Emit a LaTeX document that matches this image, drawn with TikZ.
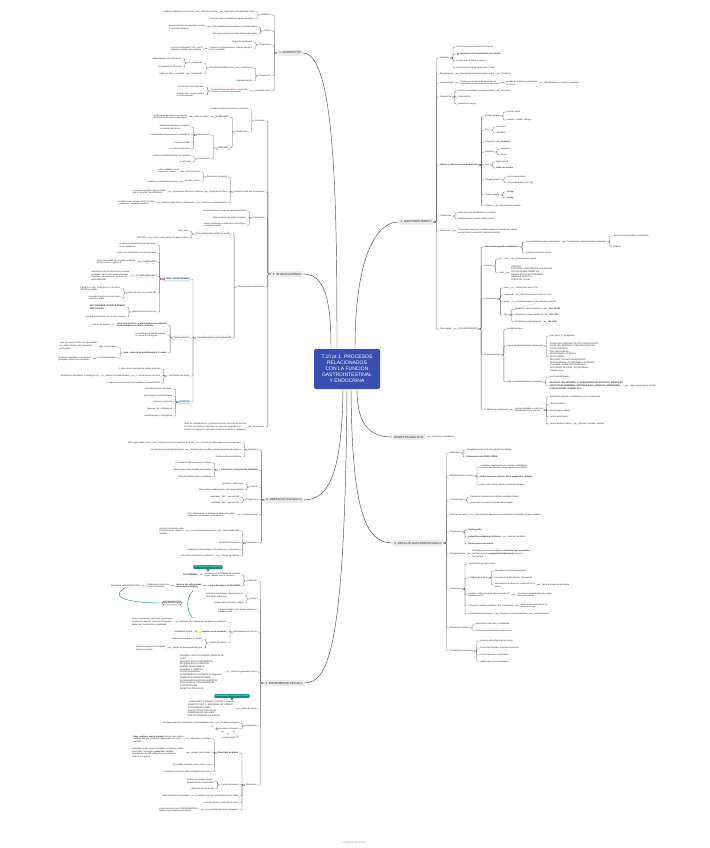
\documentclass[tikz,border=0pt]{standalone}
\usepackage{fontspec}
\setmainfont{Liberation Sans}
\usetikzlibrary{calc}
\definecolor{rootblue}{RGB}{58,77,176}
\definecolor{tealc}{RGB}{14,140,126}
\definecolor{lblue}{RGB}{110,185,230}
\definecolor{lgray}{RGB}{234,234,234}
\newcommand{\lfnt}{\fontsize{2.15}{2.7}\selectfont}
\newcommand{\mfnt}{\fontsize{2.9}{3.4}\selectfont}
\newcommand{\rfnt}{\fontsize{5}{6}\selectfont}
\tikzset{
  lt/.style={anchor=east, font=\lfnt, inner sep=0.4pt, align=left, text=black!85},
  rt/.style={anchor=west, font=\lfnt, inner sep=0.4pt, align=left, text=black!85},
  bo/.style={font=\lfnt\bfseries},
  redt/.style={text=red!80!black},
  mainb/.style={fill=lgray, rounded corners=1pt, font=\mfnt, inner sep=1.8pt, text=black!80},
  rootb/.style={fill=rootblue, text=white, font=\rfnt, align=center, rounded corners=1.5pt, minimum width=66pt, minimum height=40pt, inner sep=2pt},
  con/.style={draw=black!60, line width=0.3pt, rounded corners=1pt},
  mcon/.style={draw=black!70, line width=0.45pt},
  dbox/.style={draw=lblue, dashed, rounded corners=1.2pt, inner sep=1pt},
  sbox/.style={draw=lblue, rounded corners=1.5pt, inner sep=1pt},
  tealn/.style={fill=tealc, text=white, rounded corners=0.8pt, inner sep=1pt, font=\lfnt},
  wbox/.style={draw=black!60, rounded corners=1.5pt, inner sep=1pt, font=\lfnt},
}
% left child: [style]{name}{parent}{y}{text}
\newcommand{\Lnd}[5][]{%
  \path (#3.west) ++(-6,0) coordinate (tmpc);%
  \coordinate (tmpy) at (0,#4);%
  \node[lt,#1] (#2) at (tmpc |- tmpy) {#5};%
  \draw[con] (#3.west) -- ++(-3,0) |- (#2.east);%
}
\newcommand{\Rnd}[5][]{%
  \path (#3.east) ++(6,0) coordinate (tmpc);%
  \coordinate (tmpy) at (0,#4);%
  \node[rt,#1] (#2) at (tmpc |- tmpy) {#5};%
  \draw[con] (#3.east) -- ++(3,0) |- (#2.west);%
}
\newcommand{\icn}[2]{\fill[#2] ([xshift=1.6pt]#1.west) circle (1.1pt);}
\begin{document}
\begin{tikzpicture}[x=1pt,y=-1pt]
\fill[white] (0,0) rectangle (709,848);
\useasboundingbox (0,0) rectangle (709,848);

% ---------------- root and main branches
\node[rootb] (root) at (347,369) {T.10 pt 1. PROCESOS\\RELACIONADOS\\CON LA FUNCION\\GASTROINTESTINAL\\Y ENDOCRINA};
\node[mainb] (A) at (290,53) {4. APENDICITIS};
\node[mainb] (I) at (287,274) {5. INTOXICACIONES};
\node[mainb] (O) at (284,500) {6. OBESIDAD (Sobrepeso)};
\node[mainb] (C) at (284,683) {3. ENFERMEDAD CELIACA};
\node[mainb] (G) at (416,222) {1. GASTROENTERITIS};
\node[mainb] (D) at (409,437) {DIABETES MELLITUS};
\node[mainb] (R) at (418,543) {2. REFLUJO GASTROESOFÁGICO};

\draw[mcon] ([xshift=-10pt]root.north) .. controls (337,200) and (335,53) .. (A.east);
\draw[mcon] ([xshift=-16pt]root.north) .. controls (331,300) and (325,274) .. (I.east);
\draw[mcon] ([xshift=8pt]root.north) .. controls (355,260) and (375,222) .. (G.west);
\draw[mcon] ([xshift=10pt]root.south) .. controls (357,425) and (370,437) .. (D.west);
\draw[mcon] ([xshift=4pt]root.south) .. controls (352,510) and (365,543) .. (R.west);
\draw[mcon] ([xshift=-4pt]root.south) .. controls (342,470) and (330,500) .. (O.east);
\draw[mcon] (root.south) .. controls (345,640) and (330,683) .. (C.east);

% ---------------- 4. APENDICITIS
\Lnd{a1}{A}{15}{Definición}
\Lnd{a2}{A}{31}{Clínica}
\Lnd{a3}{A}{45}{Diagnóstico}
\Lnd{a4}{A}{76}{Tratamiento}
\Lnd{a5}{A}{91}{Complicaciones}
\Lnd{a11}{a1}{12}{Inflamación del apéndice cecal}
\Lnd{a12}{a1}{19}{Principal causa de abdomen agudo quirúrgico}
\Lnd{a111}{a11}{12}{más en hombres}
\Lnd{a112}{a111}{12}{cualquier edad pero pico 10-30a}
\Lnd{a21}{a2}{27}{Dolor abdominal periumbilical, fosa ilíaca dcha}
\Lnd{a22}{a2}{34}{Náuseas, vómitos, anorexia, fiebre baja grado}
\Lnd{a211}{a21}{27}{puede empezar en epigastrio y migrar\\a fosa ilíaca derecha}
\Lnd{a31}{a3}{42}{Palpación abdominal}
\Lnd{a32}{a3}{49}{Pruebas complementarias: análisis sangre y\\orina, ecografía}
\Lnd{a321}{a32}{49}{si no es concluyente: TAC, con la\\radiación ionizante que conlleva}
\Lnd{a41}{a4}{68}{Antibióticos}
\Lnd{a42}{a4}{81}{Apendicectomía}
\Lnd{a411}{a41}{68}{ANTIBIOTERAPIA previa}
\Lnd{a4111}{a411}{63}{no complicada}
\Lnd{a4112}{a411}{74}{complicada}
\Lnd{a41111}{a4111}{59}{difusa aguda y sin perforación}
\Lnd{a41112}{a4111}{67}{se reevalúa en 48 horas}
\Lnd{a41121}{a4112}{74}{+48h con TAC o ecografía}
\Lnd[redt]{a51}{a5}{91}{Perforación del apéndice → peritonitis,\\absceso o plastrón apendicular}
\Lnd{a511}{a51}{87}{24-48 h tras inicio del dolor}
\Lnd{a512}{a51}{95}{Retraso DX + menor edad o\\inmunosupresión}

% ---------------- 5. INTOXICACIONES
\Lnd{i1}{I}{121}{Concepto}
\Lnd{i2}{I}{192}{Actuación ante una intoxicación}
\Lnd{i3}{I}{218}{Tratamiento}
\Lnd{i4}{I}{287}{Técnicas descontaminación}
\Lnd{i5}{I}{427}{Prevención}
\Lnd{i11}{i1}{109}{Problema clínico frecuente en pediatría}
\Lnd{i12}{i1}{132}{Clasificación}
\Lnd[dbox]{i121}{i12}{117}{accidentales}
\Lnd[dbox]{i122}{i12}{148}{voluntarias}
\Lnd{i1211}{i121}{117}{edad 1-5 años}
\Lnd{i1212}{i1211}{117}{exploración del entorno (productos\\de limpieza, fármacos), curiosidad}
\Lnd{i1221}{i122}{135}{adolescencia}
\Lnd{i1222}{i122}{159}{malos tratos}
\Lnd{i12211}{i1221}{127}{problemas familiares, escolares\\o consumo de tóxicos}
\Lnd{i12212}{i1221}{135}{relacionadas con problemas psicológicos}
\Lnd{i12213}{i1221}{143}{intentos suicidas}
\Lnd{i12214}{i1221}{149}{con fines recreativos}
\Lnd{i12221}{i1222}{156}{síndrome de Münchhausen por poderes}
\Lnd{i12222}{i1222}{162}{en el hogar}
\Lnd{i21}{i2}{177}{Anamnesis completa}
\Lnd{i22}{i2}{192}{Exploración física}
\Lnd{i23}{i2}{203}{Pruebas complementarias}
\Lnd{i211}{i21}{172}{Qué sustancia}
\Lnd{i212}{i21}{181}{cuándo y cómo}
\Lnd{i2111}{i211}{171}{cuál, cantidad, vía de\\exposición, tiempo}
\Lnd{i2121}{i212}{182}{síntomas y tratamientos previos}
\Lnd{i221}{i22}{192}{Exploración física por sistemas}
\Lnd{i2211}{i221}{192}{conciencia, pupilas, signos vitales,\\piel y mucosas, olor del aliento}
\Lnd{i231}{i23}{203}{Ajustes según tóxico y tratamiento}
\Lnd{i2311}{i231}{203}{analítica orina, sangre, ECG, Rx tórax\\y abdomen, niveles plasmáticos}
\Lnd{i31}{i3}{211}{Descontaminación cutánea y gastrointestinal}
\Lnd{i32}{i3}{218}{Administración de carbón activado}
\Lnd{i33}{i3}{225}{Lavar el estómago si indicación toxicológica\\o ingesta reciente}
\Lnd[dbox]{i41}{i4}{234}{Descontaminación cutánea y ocular}
\Lnd[dbox]{i42}{i4}{338}{Descontaminación gastrointestinal}
\Lnd{i411}{i41}{231}{Piel y ojos}
\Lnd{i412}{i41}{238}{retirar ropa y lavar con agua y jabón}
\Lnd{i4121}{i412}{238}{NO frotar}
\Lnd[sbox,font=\lfnt\bfseries]{i421}{i42}{279}{\hspace{2.6pt}adm. carbón activado}
\icn{i421}{red!65}
\Lnd[dbox]{i422}{i42}{338}{lavado gástrico}
\Lnd{i423}{i42}{376}{↑ eliminación del tóxico}
\Lnd[sbox]{i424}{i42}{402}{antídotos}
\Lnd{i4211}{i421}{245}{se elimina directamente por las heces,\\no se metaboliza}
\Lnd{i4212}{i421}{253}{mejor si se administra en la primera hora}
\Lnd[dbox]{i4213}{i421}{262}{Indicaciones}
\Lnd{i42131}{i4213}{262}{tóxico absorbible por el carbón activado,\\tiempo menor o igual a 1h}
\Lnd[dbox]{i4214}{i421}{276}{Contraindicaciones}
\Lnd{i42141}{i4214}{276}{disminución de conciencia sin vía aérea\\protegida, obstrucción gastrointestinal,\\cáusticos, hidrocarburos, perforación\\gastrointestinal}
\Lnd{i4215}{i421}{293}{dosis vía oral o por sonda NG}
\Lnd{i42151}{i4215}{289}{1 g/kg si <1 año, 1 g/kg entre 1 y 12 años,\\50-100 g si adulto}
\Lnd{i42152}{i4215}{298}{se puede mezclar con zumo para\\mejorar el sabor}
\Lnd{i4216}{i421}{312}{diferentes formas de uso}
\Lnd[bo]{i42161}{i4216}{307}{NO CONSUMIR: POSIBLE VÓMITO\\PROVOCADO}
\Lnd{i42162}{i4216}{317}{puede administrarse con un zumo o agua}
\Lnd[bo]{i4221}{i422}{325}{si persiste el tóxico, preferentemente sustancias\\no absorbibles por carbón activado}
\Lnd{i42211}{i4221}{325}{tras 1h de ingesta}
\Lnd{i4222}{i422}{335}{no justificado si carbón activado,\\no cercano a la ingesta}
\Lnd[bo]{i4223}{i422}{353}{adm. solución de polietilenglicol + lavado}
\Lnd{i42231}{i4223}{347}{Indicaciones}
\Lnd{i42232}{i4223}{358}{Contraindicaciones}
\Lnd{i422311}{i42231}{346}{intox. graves por tóxicos no absorbibles\\por carbón (hierro, litio), liberación\\prolongada}
\Lnd{i422321}{i42232}{359}{pacientes inestables, vía aérea no\\protegida, obstrucción intestinal}
\Lnd{i4231}{i423}{369}{1. adm. dosis repetidas de carbón activado}
\Lnd{i4232}{i423}{376}{2. alcalinización de orina}
\Lnd{i4233}{i423}{383}{3. depuración extrarrenal (hemodiálisis, hemoperfusión)}
\Lnd{i42321}{i4232}{376}{diuresis forzada alcalina}
\Lnd{i423211}{i42321}{376}{bicarbonato 1M diluido, 1 meq/kg en 1h}
\Lnd{i4241}{i424}{389}{benzodiacepinas: flumazenil}
\Lnd{i4242}{i424}{396}{paracetamol: N-acetilcisteína}
\Lnd{i4243}{i424}{402}{opiáceos: naloxona}
\Lnd{i4244}{i424}{409}{digoxina: Ac. antidigoxina}
\Lnd{i4245}{i424}{416}{anticolinérgicos: fisostigmina}
\Lnd{i51}{i5}{427}{Tener los medicamentos y productos tóxicos fuera del alcance de\\los niños, en envases originales con tapón de seguridad, no\\cambiar de recipiente, educación sanitaria a padres y cuidadores}

% ---------------- 6. OBESIDAD
\Lnd{o1}{O}{450}{Definición}
\Lnd[bo]{o2}{O}{470}{\hspace{2.6pt}Prevención: alimentación saludable}
\icn{o2}{yellow!85!orange}
\Lnd{o3}{O}{487}{Causas}
\Lnd{o4}{O}{500}{Diagnóstico}
\Lnd{o5}{O}{515}{Complicaciones}
\Lnd{o6}{O}{543}{Tratamiento}
\Lnd{o11}{o1}{443}{Exceso de tejido adiposo en el organismo}
\Lnd{o12}{o1}{450}{Trastorno que modifica el funcionamiento de órganos}
\Lnd{o13}{o1}{457}{Problema de salud pública}
\Lnd{o111}{o11}{443}{acúmulo anormal o excesivo de grasa}
\Lnd{o1111}{o111}{443}{IMC según edad y sexo}
\Lnd{o121}{o12}{450}{no siempre por mala alimentación}
\Lnd{o21}{o2}{463}{5 comidas al día, desayuno completo}
\Lnd{o22}{o2}{470}{beber agua, evitar bebidas azucaradas}
\Lnd{o23}{o2}{477}{dieta de calidad, frutas y verduras}
\Lnd{o31}{o3}{484}{genéticos, endocrinos}
\Lnd{o32}{o3}{490}{ambientales: sedentarismo, dieta hipercalórica}
\Lnd{o41}{o4}{497}{sobrepeso: IMC > percentil 85}
\Lnd{o42}{o4}{503}{obesidad: IMC > percentil 95}
\Lnd{o51}{o5}{515}{HTA, diabetes tipo 2, dislipemia, apnea del sueño,\\problemas ortopédicos y psicológicos}
\Lnd{o61}{o6}{531}{Dieta equilibrada}
\Lnd{o62}{o6}{543}{Actividad física diaria}
\Lnd{o63}{o6}{550}{Fármacos}
\Lnd{o64}{o6}{556}{Cambio de hábitos}
\Lnd{o611}{o61}{531}{con intensidad progresiva}
\Lnd{o6111}{o611}{531}{implicar a la familia, evitar\\complicaciones, objetivos\\realistas}
\Lnd{o631}{o63}{550}{tratamiento farmacológico si fracasa}
\Lnd{o641}{o64}{556}{educación nutricional y conductual}

% ---------------- 3. ENFERMEDAD CELIACA
\Lnd{c1}{C}{581}{Definición}
\Lnd{c2}{C}{599}{Clínica}
\Lnd{c3}{C}{611}{Ser asintomático, pero puede aparecer a\\cualquier edad}
\Lnd{c4}{C}{632}{Manifestaciones clínicas}
\Lnd{c5}{C}{672}{síntomas generales y otros}
\Lnd{c6}{C}{709}{grupo de riesgo}
\Lnd{c7}{C}{726}{Diagnóstico}
\Lnd{c8}{C}{785}{Tratamiento}
\Lnd{c11}{c1}{575}{Intolerancia PERMANENTE al gluten\\(trigo, cebada, avena, centeno)}
\Lnd[bo]{c12}{c1}{586}{no pueden digerir la GLIADINA}
\Lnd[bo]{c111}{c11}{575}{AUTOINMUNE}
\Lnd[bo]{c121}{c12}{586}{afecta a las vellosidades\\del intestino delgado}
\Lnd{c1211}{c121}{586}{Inflamación y atrofia de\\la pared intestinal}
\Lnd{c12111}{c1211}{586}{Afectación: MALABSORCIÓN}
\node[tealn] (cn1) at (208,567) {ESTUDIOS (HLA DQ2/DQ8)};
\fill[tealc] ([xshift=-1.5pt]cn1.south) -- ([xshift=1.5pt]cn1.south) -- ++(-1.5,2.5) -- cycle;
\Lnd{c21}{c2}{595}{Síntomas intestinales: diarrea crónica,\\distensión abdominal}
\Lnd{c22}{c2}{603}{Retraso del crecimiento, fatiga}
\node[wbox] (cm) at (172,603) {MALABSORCIÓN};
\draw[tealc, line width=0.4pt] (c12111.south) .. controls (105,600) and (140,603) .. (cm.west);
\draw[tealc, line width=0.4pt] (193,591) .. controls (186,596) and (186,612) .. (193,618);
\Lnd{c41}{c4}{622}{alteración de la absorción de grasas y nutrientes}
\Lnd[bo]{c42}{c4}{632}{\hspace{2.6pt}cambios en la conducta}
\icn{c42}{yellow!85!orange}
\Lnd{c43}{c4}{643}{CRISIS CELIACA}
\Lnd{c411}{c41}{622}{heces voluminosas, grasosas, espumosas,\\esteatorrea, anemia, anorexia, distensión\\abdominal, malnutrición, irritabilidad}
\Lnd{c421}{c42}{632}{irritabilidad, apatía}
\Lnd{c431}{c43}{639}{diarrea acuosa grave y vómitos}
\Lnd{c432}{c43}{648}{puede ser desencadenada por}
\Lnd{c4321}{c432}{648}{infecciones, ayuno prolongado,\\estrés emocional}
\Lnd{c51}{c5}{672}{DIARREA, FALLO DE MEDRO, PÉRDIDA DE\\PESO\\RETRASO EN EL CRECIMIENTO\\RETRASO EN LA PUBERTAD\\ANEMIA FERROPÉNICA\\NÁUSEAS Y VÓMITOS\\DOLOR ABDOMINAL\\ESTREÑIMIENTO CRÓNICO (no digestivo)\\DERMATITIS HERPETIFORME\\ÚLCERAS BUCALES RECURRENTES\\ELEVACIÓN DE TRANSAMINASAS\\OSTEOPOROSIS\\DEFECTOS DENTALES}
\node[tealn] (cn2) at (232,696) {Ha aumentado en los últimos años};
\fill[tealc] ([xshift=-1.5pt]cn2.south) -- ([xshift=1.5pt]cn2.south) -- ++(-1.5,2.5) -- cycle;
\Lnd{c61}{c6}{709}{- FAMILIARES 1º GRADO CON ENF. CELIACA -\\DIABETES TIPO 1 - SÍNDROME DE TURNER -\\SÍNDROME DE DOWN -\\DÉFICIT SELECTIVO DE IgA -\\SÍNDROME DE WILLIAMS -\\ENF. AUTOINMUNE DE HÍGADO}
\Lnd{c71}{c7}{723}{Prueba serológica}
\Lnd{c72}{c7}{729}{Endoscopia con biopsia}
\Lnd{c711}{c71}{723}{Serología positiva y anticuerpos antitransglutaminasa}
\node[rt] (cq) at (221,738) {¿confirmación?};
\draw[tealc, dashed, line width=0.35pt] ([xshift=-3pt]c711.south east) .. controls +(0,6) and +(4,-4) .. (cq.north);
\draw[tealc, dashed, line width=0.35pt] ([xshift=6pt]c72.south) .. controls +(0,5) and +(6,0) .. (cq.east);
\Lnd[bo]{c81}{c8}{753}{Dieta libre de gluten}
\Lnd{c82}{c8}{785}{Control nutricional}
\Lnd{c83}{c8}{796}{explicar lo que es la contaminación cruzada}
\Lnd{c84}{c8}{803}{enseñar signos y síntomas de brote}
\Lnd{c85}{c8}{810}{leer las etiquetas de los alimentos}
\Lnd{c831}{c83}{796}{evitar utensilios compartidos}
\Lnd{c851}{c85}{810}{evitar productos con CONSERVANTES y\\aditivos que puedan tener gluten}
\Lnd{c811}{c81}{739}{alimentos con gluten}
\Lnd{c812}{c81}{753}{pueden tener gluten}
\Lnd{c813}{c81}{765}{principales cereales: arroz, maíz y mijo}
\Lnd{c814}{c81}{772}{se prefiere eliminar el 100\% del gluten de la dieta}
\Lnd{c8111}{c811}{739}{\textbf{trigo, centeno, avena, cebada}, harinas, pan, pasta,\\galletas, bollería, productos elaborados con estos\\cereales}
\Lnd{c8121}{c812}{753}{embutidos, patés, quesos fundidos, conservas, salsas,\\chocolates, caramelos, \textbf{golosinas}, helados,\\sucedáneos de café, alimentos precocinados,\\productos a granel}
\Lnd{c821}{c82}{781}{análisis de sangre: niveles\\de deficiencias nutricionales}
\Lnd{c822}{c82}{789}{valoración del desarrollo}

% ---------------- 1. GASTROENTERITIS
\Rnd{g1}{G}{58}{Definición}
\Rnd{g2}{G}{74}{Etiopatogenia}
\Rnd{g3}{G}{83}{Fisiopatología}
\Rnd{g4}{G}{97}{Diagnóstico}
\Rnd[bo]{g5}{G}{165}{Signos y síntomas de deshidratación}
\Rnd{g6}{G}{216}{Tratamiento}
\Rnd{g7}{G}{231}{Prevención}
\Rnd{g8}{G}{329}{Fase aguda}
\Rnd{g11}{g1}{47}{Disminución de consistencia de heces}
\Rnd[bo]{g12}{g1}{54}{\hspace{2.6pt}Aumento de frecuencia (más de 3 al día)}
\icn{g12}{red!65}
\Rnd{g13}{g1}{61}{Puede asociar fiebre y vómitos}
\Rnd{g14}{g1}{68}{Generalmente agudo (menos de 7 días)}
\Rnd{g21}{g2}{74}{Infecciones víricas (principal causa)}
\Rnd{g211}{g21}{74}{Rotavirus}
\Rnd{g31}{g3}{83}{Diarrea por aumento de secreción de\\electrolitos y/o disminución de absorción}
\Rnd{g311}{g31}{83}{pérdida de líquidos y electrolitos\\en heces}
\Rnd{g3111}{g311}{83}{deshidratación y acidosis metabólica}
\Rnd{g41}{g4}{91}{Clínico, sin pruebas complementarias}
\Rnd{g411}{g41}{91}{principal}
\Rnd{g42}{g4}{97}{Coprocultivo}
\Rnd{g43}{g4}{104}{Análisis de sangre}
\Rnd{g51}{g5}{116}{Estado general}
\Rnd{g52}{g5}{130}{Ojos}
\Rnd{g53}{g5}{142}{Lágrimas}
\Rnd{g54}{g5}{152}{Mucosas}
\Rnd{g55}{g5}{165}{Sed}
\Rnd{g56}{g5}{180}{Pliegue cutáneo}
\Rnd{g57}{g5}{195}{Relleno capilar}
\Rnd{g58}{g5}{206}{Diuresis}
\Rnd{g511}{g51}{112}{normal, alerta}
\Rnd{g512}{g51}{120}{inquieto, irritable, letárgico}
\Rnd{g521}{g52}{127}{normales}
\Rnd{g522}{g52}{133}{hundidos}
\Rnd[bo]{g531}{g53}{142}{ausentes}
\Rnd{g541}{g54}{149}{húmedas}
\Rnd{g542}{g54}{155}{secas}
\Rnd{g551}{g55}{162}{bebe normal}
\Rnd[bo]{g552}{g55}{168}{bebe con avidez}
\Rnd{g561}{g56}{177}{se recupera rápido}
\Rnd{g562}{g56}{183}{se recupera lento (>2 seg)}
\Rnd[bo]{g571}{g57}{192}{<2 seg}
\Rnd[bo]{g572}{g57}{198}{>2 seg}
\Rnd{g581}{g58}{206}{disminuida o ausente}
\Rnd{g61}{g6}{213}{Soluciones de rehidratación oral (SRO)}
\Rnd{g62}{g6}{219}{Realimentación precoz, dieta normal}
\Rnd{g71}{g7}{231}{Transmisión fecal-oral: medidas higiénicas (lavado de manos),\\vacuna frente a rotavirus, lactancia materna}
\Rnd{g81}{g8}{329}{DESHIDRATACIÓN}
\Rnd[bo]{g811}{g81}{247}{Alteraciones agudas metabólicas}
\Rnd{g812}{g81}{266}{Causas}
\Rnd{g813}{g81}{299}{Clasificación}
\Rnd{g814}{g81}{355}{Manifestaciones}
\Rnd{g815}{g81}{410}{Cuidados de enfermería}
\Rnd{g8111}{g811}{242}{por la pérdida de agua y electrolitos}
\Rnd{g81111}{g8111}{242}{Compuestos hidroelectrolíticos alterados}
\Rnd{g811111}{g81111}{236}{alteraciones del equilibrio ácido-base}
\Rnd{g811112}{g81111}{247}{acidosis}
\Rnd{g8112}{g811}{253}{Hiper/hiponatremia, shock}
\Rnd{g8121}{g812}{259}{Sx. ↑ frec.}
\Rnd{g81211}{g8121}{259}{gastroenteritis aguda}
\Rnd{g8122}{g812}{273}{otras}
\Rnd{g81221}{g8122}{273}{VÓMITOS\\ESTENOSIS HIPERTRÓFICA DE PÍLORO\\CETOACIDOSIS DIABÉTICA\\INSUFICIENCIA SUPRARRENAL\\FIBROSIS QUÍSTICA\\GOLPE DE CALOR}
\Rnd{g8131}{g813}{288}{Leve}
\Rnd{g8132}{g813}{295}{moderada}
\Rnd{g8133}{g813}{302}{grave}
\Rnd{g8134}{g813}{315}{Tipo}
\Rnd{g81311}{g8131}{288}{Disminución peso <5\%}
\Rnd{g81321}{g8132}{295}{Disminución peso entre 5 y 10\%}
\Rnd{g81331}{g8133}{302}{pérdida superior al 10\% de peso corporal}
\Rnd{g81341}{g8134}{309}{Isotónica o normonatrémica}
\Rnd{g81342}{g8134}{315}{Hipertónica o hipernatrémica}
\Rnd{g81343}{g8134}{322}{Hipotónica o hiponatrémica}
\Rnd[bo]{g813411}{g81341}{309}{Na 130-150}
\Rnd[bo]{g813421}{g81342}{315}{Na >150}
\Rnd[bo]{g813431}{g81343}{322}{Na <130}
\draw[blue!60, densely dotted, line width=0.4pt] ([xshift=20pt]g81331.south west) .. controls +(-10,2) and +(2,-4) .. ([xshift=1pt]g8134.north east);
\Rnd{g8141}{g814}{329}{pérdida de peso}
\Rnd{g8142}{g814}{346}{signos de deshidratación extracelular}
\Rnd{g8143}{g814}{382}{signos de deshidratación intracelular}
\Rnd{g81421}{g8142}{336}{más típico: 1ª en aparecer}
\Rnd{g81422}{g8142}{357}{SIGNO DEL PLIEGUE POSITIVO PERSISTENTE\\FALTA DE LÁGRIMAS Y SEQUEDAD DE PIEL\\OJOS HUNDIDOS\\MUCOSAS SECAS\\HIPOTENSIÓN ARTERIAL\\PULSO DÉBIL\\RELLENO CAPILAR ENLENTECIDO\\DEPRESIÓN DE LA FONTANELA ANTERIOR\\OLIGURIA, ORINA CONCENTRADA\\DESCENSO DE PESO, TAQUICARDIA,\\frialdad, shock}
\Rnd{g81431}{g8143}{377}{tipo 2 deshidratación}
\Rnd[bo]{g81432}{g8143}{386}{OLIGURIA, SED INTENSA, CON SEQUEDAD DE MUCOSAS, SIGNOS DE\\AFECTACIÓN CEREBRAL (IRRITABILIDAD, LETARGIA, HIPERTONÍA),\\CONVULSIONES, FIEBRE, ETC.}
\Rnd{g814321}{g81432}{386}{signos para valorar el SNC}
\Rnd{g8151}{g815}{410}{reponer pérdidas y control de\\deshidratación por vía oral}
\Rnd{g81511}{g8151}{397}{administrar líquidos: rehidratación oral o intravenosa}
\Rnd{g81512}{g8151}{404}{control analítico}
\Rnd{g81513}{g8151}{411}{control signos vitales}
\Rnd{g81514}{g8151}{417}{control peso diario}
\Rnd{g81515}{g8151}{424}{control balance hídrico}
\Rnd{g815151}{g81515}{424}{diuresis, entradas, salidas}

% ---------------- DIABETES
\Rnd{d1}{D}{437}{Trastornos metabólicos}

% ---------------- 2. REFLUJO
\Rnd{r1}{R}{453}{Definición}
\Rnd{r2}{R}{476}{Manifestaciones clínicas}
\Rnd{r3}{R}{500}{Fisiopatología}
\Rnd{r4}{R}{515}{Factores de riesgo}
\Rnd{r5}{R}{532}{Diagnóstico}
\Rnd{r6}{R}{554}{Complicaciones}
\Rnd{r7}{R}{589}{Tratamiento}
\Rnd{r8}{R}{628}{Educación sanitaria}
\Rnd{r9}{R}{651}{Cuidados de enfermería}
\Rnd{r11}{r1}{450}{Transferencia de contenido gástrico al esófago}
\Rnd[bo]{r12}{r1}{457}{Diferenciar entre RGE y ERGE}
\Rnd{r21}{r2}{467}{Lactantes: regurgitaciones, vómitos, irritabilidad,\\rechazo del alimento, escasa ganancia ponderal}
\Rnd[bo]{r22}{r2}{477}{Niños mayores: pirosis, dolor epigástrico, disfagia}
\Rnd{r23}{r2}{485}{Otros: tos crónica, asma, neumonías, apneas}
\Rnd{r31}{r3}{497}{Relajación transitoria del esfínter esofágico inferior}
\Rnd{r32}{r3}{503}{inmadurez, posición horizontal, dieta líquida}
\Rnd{r41}{r4}{515}{prematuridad, alteraciones neurológicas, obesidad, cirugía esofágica}
\Rnd[bo]{r51}{r5}{530}{Gastrografía}
\Rnd[bo]{r52}{r5}{537}{pHmetría esofágica de 24 horas}
\Rnd{r521}{r52}{537}{permite cuantificar}
\Rnd[bo]{r53}{r5}{544}{Endoscopia con biopsia}
\Rnd{r61}{r6}{554}{Esofagitis, estenosis esofágica, \textbf{neumonías por aspiración},\\(asfixia), apnea, \textbf{sangrado (hematemesis)}, anemia\\ferropénica, ...}
\Rnd{r71}{r7}{564}{no fármacos en casos leves}
\Rnd{r72}{r7}{578}{Cambios en la dieta}
\Rnd{r73}{r7}{595}{posición: cabecera de la cama elevada 30º,\\decúbito supino}
\Rnd{r74}{r7}{606}{Fármacos: antiH2 (ranitidina), IBP (omeprazol)}
\Rnd{r75}{r7}{614}{Fundoplicatura de Nissen}
\Rnd{r721}{r72}{571}{alimentar con fórmula espesada}
\Rnd{r722}{r72}{578}{comidas poco abundantes y frecuentes}
\Rnd{r723}{r72}{585}{alimentación continua por sonda NG si no\\tolera}
\Rnd{r7231}{r723}{585}{hacia intervención quirúrgica}
\Rnd{r731}{r73}{595}{en prono (contraindicado por riesgo\\de muerte súbita)}
\Rnd{r741}{r74}{606}{inhibir la secreción de HCl y\\aumentar el pH}
\Rnd{r751}{r75}{614}{cirugía en casos refractarios}
\Rnd{r7511}{r751}{614}{complicaciones}
\Rnd{r81}{r8}{624}{alteraciones del sueño, irritabilidad}
\Rnd{r82}{r8}{631}{técnica de alimentación y espesantes}
\Rnd{r91}{r9}{641}{posición antirreflujo tras las tomas}
\Rnd{r92}{r9}{648}{tomas fraccionadas, espesar el alimento}
\Rnd{r93}{r9}{655}{control de peso y crecimiento}
\Rnd{r94}{r9}{662}{vigilar signos de complicación}

% ---------------- footer
\node[font=\fontsize{2.8}{3.2}\selectfont, text=black!35] (pw) at (354,843) {Powered by xmind};
\end{tikzpicture}
\end{document}
